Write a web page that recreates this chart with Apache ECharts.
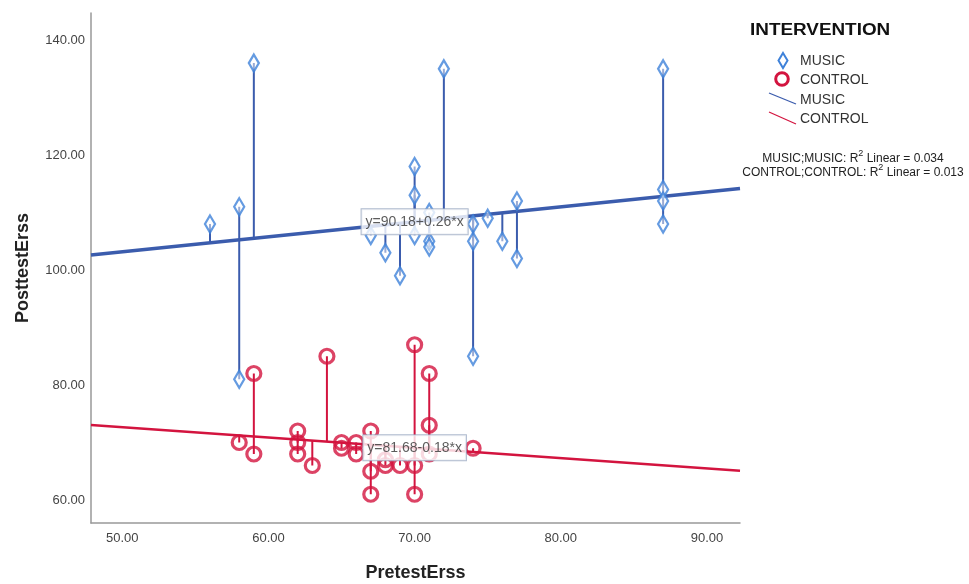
<!DOCTYPE html>
<html>
<head>
<meta charset="utf-8">
<script src="https://cdn.jsdelivr.net/npm/echarts@6/dist/echarts.min.js"></script>
<style>
html,body{margin:0;padding:0;background:#fff;}
#chart{width:969px;height:584px;}
</style>
</head>
<body>
<div id="chart"></div>
<script>
// ---- data ----
const musicX = [56, 58, 58, 59, 67, 68, 69, 70, 70, 70, 71, 71, 71, 72, 74, 74, 74, 75, 76, 77, 77, 87, 87, 87, 87];
const musicY = [108, 111, 81, 136, 106, 103, 99, 118, 113, 106, 110, 105, 104, 135, 108, 105, 85, 109, 105, 112, 102, 135, 114, 112, 108];
const controlX = [58, 59, 59, 62, 62, 62, 63, 64, 65, 65, 66, 66, 67, 67, 67, 68, 68, 69, 70, 70, 70, 71, 71, 71, 74];
const controlY = [70, 82, 68, 72, 70, 68, 66, 85, 70, 69, 70, 68, 72, 65, 61, 67, 66, 66, 87, 66, 61, 82, 73, 68, 69];
const fitIntercept = [90.18, 81.68];   // MUSIC, CONTROL
const fitSlope = [0.26, -0.18];
const fitLabels = ['y=90.18+0.26*x', 'y=81.68-0.18*x'];
const r2Values = ['0.034', '0.013'];
const groupNames = ['MUSIC', 'CONTROL'];
const xTicks = [50, 60, 70, 80, 90];
const yTicks = [60, 80, 100, 120, 140];
const xRange = [47.86, 92.26];
const yRange = [56, 144.7];
const labelAtX = 70;

const FONT = '"Liberation Sans", Arial, sans-serif';
const BLUE_MK = '#3f82d9';
const BLUE_LN = '#3b5cad';
const RED = '#d3143f';

function fit(g, x) { return fitIntercept[g] + fitSlope[g] * x; }

function pts(xs, ys) { return xs.map((x, i) => [x, ys[i]]); }
function drops(xs, ys, g) { return xs.map((x, i) => [x, ys[i], fit(g, x)]); }

function dropSeries(xs, ys, g, color) {
  return {
    type: 'custom', z: 2, silent: true,
    data: drops(xs, ys, g),
    renderItem: function (params, api) {
      const p = api.coord([api.value(0), api.value(1)]);
      const q = api.coord([api.value(0), api.value(2)]);
      return { type: 'line', shape: { x1: p[0], y1: p[1], x2: q[0], y2: q[1] },
               style: { stroke: color, lineWidth: 2 } };
    }
  };
}
function fitSeries(g, color, w) {
  return {
    type: 'line', z: 3, silent: true, symbol: 'none',
    data: [[xRange[0], fit(g, xRange[0])], [xRange[1], fit(g, xRange[1])]],
    lineStyle: { color: color, width: w }
  };
}
function labelSeries(g) {
  return {
    type: 'scatter', z: 10, silent: true, symbolSize: 0,
    data: [[labelAtX, fit(g, labelAtX)]],
    label: {
      show: true, position: 'inside', formatter: fitLabels[g],
      fontFamily: FONT, fontSize: 14, color: '#333',
      backgroundColor: '#fff', borderColor: '#9aa9c2', borderWidth: 1,
      padding: [6, 4, 5, 4]
    }
  };
}

const chart = echarts.init(document.getElementById('chart'), null, { renderer: 'canvas' });

const supRich = {
  n: { fontSize: 12, lineHeight: 16, verticalAlign: 'bottom', fill: '#222', fontFamily: FONT },
  s: { fontSize: 9, lineHeight: 9, verticalAlign: 'top', fill: '#222', fontFamily: FONT }
};
function r2Text(g) {
  return '{n|' + groupNames[g] + ';' + groupNames[g] + ': R}{s|2}{n| Linear = ' + r2Values[g] + '}';
}
const option = {
  backgroundColor: '#fff',
  animation: false,
  grid: { left: 91, top: 13, right: 229, bottom: 61, outerBoundsMode: 'none', containLabel: false },
  xAxis: {
    type: 'value', min: xRange[0], max: xRange[1],
    name: 'PretestErss', nameLocation: 'middle', nameGap: 41,
    nameTextStyle: { fontFamily: FONT, fontSize: 18, fontWeight: 'bold', color: '#222' },
    axisLine: { show: true, lineStyle: { color: '#999', width: 1.5 } },
    axisTick: { show: false },
    splitLine: { show: false },
    axisLabel: { customValues: xTicks, formatter: v => v.toFixed(2), margin: 9,
                 fontFamily: FONT, fontSize: 13, color: '#444' }
  },
  yAxis: {
    type: 'value', min: yRange[0], max: yRange[1],
    name: 'PosttestErss', nameLocation: 'middle', nameGap: 59,
    nameTextStyle: { fontFamily: FONT, fontSize: 18, fontWeight: 'bold', color: '#222' },
    axisLine: { show: true, lineStyle: { color: '#999', width: 1.5 } },
    axisTick: { show: false },
    splitLine: { show: false },
    axisLabel: { customValues: yTicks, formatter: v => v.toFixed(2), margin: 6,
                 fontFamily: FONT, fontSize: 13, color: '#444' }
  },
  series: [
    dropSeries(musicX, musicY, 0, BLUE_LN),
    dropSeries(controlX, controlY, 1, RED),
    fitSeries(0, BLUE_LN, 3.5),
    fitSeries(1, RED, 2.5),
    {
      type: 'scatter', z: 5, name: groupNames[0], symbol: 'diamond', symbolSize: [10, 17],
      data: pts(musicX, musicY),
      itemStyle: { color: 'rgba(255,255,255,0.6)', borderColor: BLUE_MK, borderWidth: 2.4 }
    },
    {
      type: 'scatter', z: 5, name: groupNames[1], symbol: 'circle', symbolSize: 14,
      data: pts(controlX, controlY),
      itemStyle: { color: 'rgba(255,255,255,0)', borderColor: RED, borderWidth: 3.2 }
    },
    labelSeries(0),
    labelSeries(1)
  ],
  graphic: [
    { type: 'text', x: 750, y: 31, scaleX: 1.18, originX: 0, originY: 0,
      style: { text: 'INTERVENTION', font: 'bold 16px ' + FONT, fill: '#111', verticalAlign: 'middle' } },
    { type: 'polygon', shape: { points: [[783, 53], [787.5, 60.5], [783, 68], [778.5, 60.5]] },
      style: { fill: '#fff', stroke: BLUE_MK, lineWidth: 2 } },
    { type: 'text', x: 800, y: 61,
      style: { text: groupNames[0], font: '14px ' + FONT, fill: '#333', verticalAlign: 'middle' } },
    { type: 'circle', shape: { cx: 782, cy: 79, r: 6.3 },
      style: { fill: 'none', stroke: RED, lineWidth: 3 } },
    { type: 'text', x: 800, y: 80,
      style: { text: groupNames[1], font: '14px ' + FONT, fill: '#333', verticalAlign: 'middle' } },
    { type: 'line', shape: { x1: 769, y1: 93, x2: 796, y2: 104 },
      style: { stroke: BLUE_LN, lineWidth: 1.3 } },
    { type: 'text', x: 800, y: 100,
      style: { text: groupNames[0], font: '14px ' + FONT, fill: '#333', verticalAlign: 'middle' } },
    { type: 'line', shape: { x1: 769, y1: 112, x2: 796, y2: 124 },
      style: { stroke: RED, lineWidth: 1.3 } },
    { type: 'text', x: 800, y: 119,
      style: { text: groupNames[1], font: '14px ' + FONT, fill: '#333', verticalAlign: 'middle' } },
    { type: 'text', x: 853, y: 157,
      style: { text: r2Text(0), align: 'center', verticalAlign: 'middle', font: '12px ' + FONT, fill: '#222', rich: supRich } },
    { type: 'text', x: 853, y: 171,
      style: { text: r2Text(1), align: 'center', verticalAlign: 'middle', font: '12px ' + FONT, fill: '#222', rich: supRich } }
  ]
};
chart.setOption(option);
</script>
</body>
</html>
